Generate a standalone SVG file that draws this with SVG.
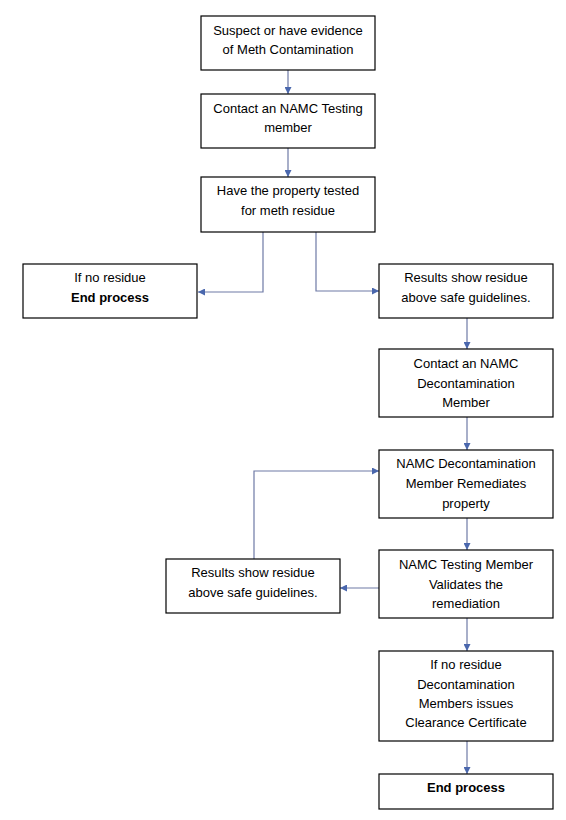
<svg xmlns="http://www.w3.org/2000/svg" width="566" height="820" viewBox="0 0 566 820">
<style>
.box{fill:#fff;stroke:#000;stroke-width:1.2}
text{font-family:"Liberation Sans",Arial,sans-serif;font-size:13px;fill:#000;text-anchor:middle}
.b{font-weight:bold}
.c{fill:none;stroke:#6e7aa6;stroke-width:1.2}
</style>
<defs>
<marker id="ah" viewBox="0 0 10 10" refX="10" refY="5" markerWidth="7" markerHeight="7" orient="auto" markerUnits="userSpaceOnUse">
<path d="M0,0 L10,5 L0,10 z" fill="#4a67ad"/>
</marker>
</defs>
<rect width="566" height="820" fill="#fff"/>
<g id="connectors">
<path class="c" d="M288,70 V94" marker-end="url(#ah)"/>
<path class="c" d="M288,148 V177" marker-end="url(#ah)"/>
<path class="c" d="M263,232 V292 H198" marker-end="url(#ah)"/>
<path class="c" d="M316,232 V291 H379" marker-end="url(#ah)"/>
<path class="c" d="M467,318 V349" marker-end="url(#ah)"/>
<path class="c" d="M467,417 V450" marker-end="url(#ah)"/>
<path class="c" d="M467,518 V550" marker-end="url(#ah)"/>
<path class="c" d="M379,588 H340" marker-end="url(#ah)"/>
<path class="c" d="M254,559 V471 H379" marker-end="url(#ah)"/>
<path class="c" d="M467,618 V651" marker-end="url(#ah)"/>
<path class="c" d="M467,741 V774" marker-end="url(#ah)"/>
</g>
<g id="n1"><rect class="box" x="201" y="16" width="174" height="54"/><text x="288" y="35">Suspect or have evidence</text><text x="288" y="54">of Meth Contamination</text></g>
<g id="n2"><rect class="box" x="201" y="94" width="174" height="54"/><text x="288" y="113">Contact an NAMC Testing</text><text x="288" y="132">member</text></g>
<g id="n3"><rect class="box" x="201" y="177" width="174" height="55"/><text x="288" y="195">Have the property tested</text><text x="288" y="215">for meth residue</text></g>
<g id="n4"><rect class="box" x="23" y="264" width="174" height="54"/><text x="110" y="282">If no residue</text><text class="b" x="110" y="302">End process</text></g>
<g id="n5"><rect class="box" x="379" y="264" width="174" height="54"/><text x="466" y="282">Results show residue</text><text x="466" y="302">above safe guidelines.</text></g>
<g id="n6"><rect class="box" x="379" y="349" width="174" height="68"/><text x="466" y="368">Contact an NAMC</text><text x="466" y="388">Decontamination</text><text x="466" y="407">Member</text></g>
<g id="n7"><rect class="box" x="379" y="450" width="174" height="68"/><text x="466" y="468">NAMC Decontamination</text><text x="466" y="488">Member Remediates</text><text x="466" y="508">property</text></g>
<g id="n8"><rect class="box" x="379" y="550" width="174" height="68"/><text x="466" y="569">NAMC Testing Member</text><text x="466" y="589">Validates the</text><text x="466" y="608">remediation</text></g>
<g id="n9"><rect class="box" x="166" y="559" width="174" height="54"/><text x="253" y="577">Results show residue</text><text x="253" y="597">above safe guidelines.</text></g>
<g id="n10"><rect class="box" x="379" y="651" width="174" height="90"/><text x="466" y="669">If no residue</text><text x="466" y="689">Decontamination</text><text x="466" y="708">Members issues</text><text x="466" y="727">Clearance Certificate</text></g>
<g id="n11"><rect class="box" x="379" y="774" width="174" height="35"/><text class="b" x="466" y="792">End process</text></g>
</svg>
